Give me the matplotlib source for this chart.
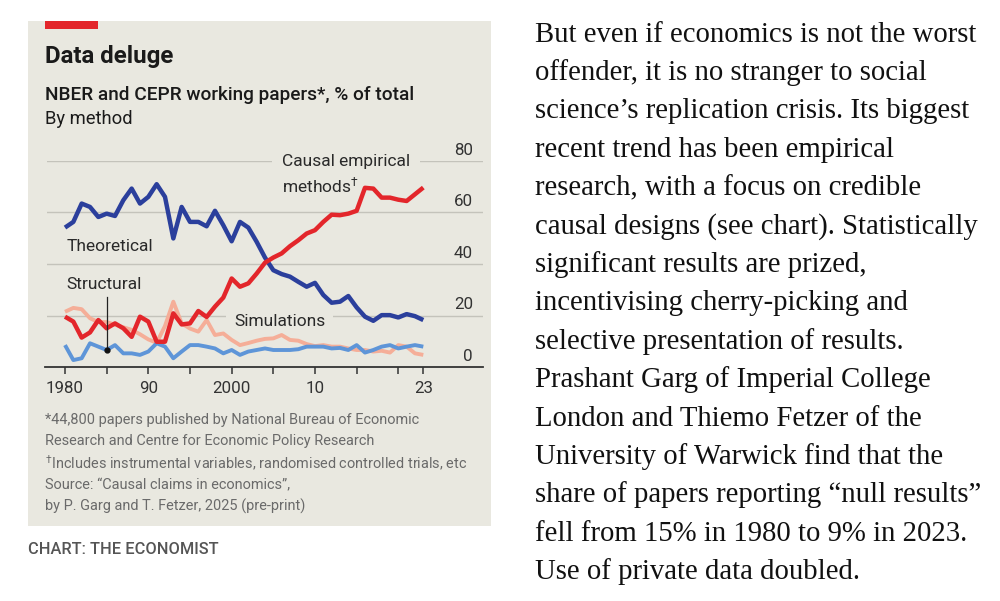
import matplotlib
matplotlib.use("Agg")
import matplotlib.pyplot as plt
from matplotlib.patches import Rectangle
import matplotlib.transforms as mtransforms

plt.rcParams["mathtext.fontset"] = "custom"
plt.rcParams["mathtext.rm"] = "Roboto"
plt.rcParams["mathtext.it"] = "Roboto:italic"
plt.rcParams["mathtext.bf"] = "Roboto:bold"

years = list(range(1980, 2024))

theoretical = [54.1, 56.3, 63.4, 62.1, 58.2, 59.5, 58.6, 64.7, 69.2, 63.4,
               66.0, 70.9, 66.0, 49.9, 62.1, 56.3, 56.3, 54.6, 60.6, 55.0,
               48.8, 56.3, 54.1, 48.6, 42.5, 37.6, 36.1, 35.1, 33.1, 31.2,
               32.7, 28.0, 25.0, 25.4, 27.6, 23.2, 19.6, 18.0, 20.2, 20.2,
               19.3, 20.6, 19.8, 18.3]

causal = [19.6, 17.7, 11.5, 13.5, 18.3, 15.1, 17.0, 15.1, 11.8, 19.6,
          17.7, 9.9, 9.9, 20.9, 16.6, 17.0, 21.8, 19.5, 23.5, 27.0,
          34.4, 31.2, 32.5, 36.3, 40.5, 42.5, 44.1, 46.9, 49.2, 51.8,
          53.1, 56.3, 59.1, 58.9, 59.5, 60.6, 69.5, 69.2, 65.7, 65.7,
          64.9, 64.4, 67.0, 69.6]

simulations = [21.5, 23.0, 22.5, 19.0, 17.5, 17.5, 16.5, 15.5, 14.5, 12.8,
               10.8, 9.5, 16.0, 25.4, 17.0, 15.0, 13.8, 18.3, 12.5, 13.1,
               10.6, 8.6, 9.4, 10.3, 11.0, 11.2, 12.5, 10.6, 10.3, 9.0,
               8.2, 8.6, 8.0, 8.0, 7.3, 6.7, 6.7, 6.1, 6.4, 5.7,
               8.6, 8.0, 5.4, 4.8]

structural = [8.6, 2.8, 3.5, 9.3, 8.0, 6.7, 8.6, 5.4, 5.4, 4.8,
              6.1, 9.3, 8.0, 3.5, 6.1, 8.6, 8.6, 8.0, 7.3, 5.4,
              6.7, 4.8, 6.1, 6.7, 7.3, 6.7, 6.7, 6.7, 7.0, 8.0,
              8.0, 8.0, 7.3, 7.5, 6.7, 8.6, 5.7, 6.7, 8.0, 8.6,
              7.3, 8.0, 8.6, 8.0]

x_ticks = [1980, 1985, 1990, 1995, 2000, 2005, 2010, 2015, 2020, 2023]
x_tick_labels = ["1980", "", "90", "", "2000", "", "10", "", "", "23"]
y_ticks = [0, 20, 40, 60, 80]
y_tick_labels = ["0", "20", "40", "60", "80"]

body_lines = [
    "But even if economics is not the worst",
    "offender, it is no stranger to social",
    "science\u2019s replication crisis. Its biggest",
    "recent trend has been empirical",
    "research, with a focus on credible",
    "causal designs (see chart). Statistically",
    "significant results are prized,",
    "incentivising cherry-picking and",
    "selective presentation of results.",
    "Prashant Garg of Imperial College",
    "London and Thiemo Fetzer of the",
    "University of Warwick find that the",
    "share of papers reporting \u201cnull results\u201d",
    "fell from 15% in 1980 to 9% in 2023.",
    "Use of private data doubled.",
]

DAG = "$^{\\mathrm{" + "\u2020" + "}}$"
footnotes = [
    "*44,800 papers published by National Bureau of Economic",
    "Research and Centre for Economic Policy Research",
    DAG + "Includes instrumental variables, randomised controlled trials, etc",
    "Source: \u201cCausal claims in economics\u201d,",
    "by P. Garg and T. Fetzer, 2025 (pre-print)",
]

BG = "#E9E8E0"
DARK_BLUE = "#2B3F9C"
RED = "#E3262B"
PINK = "#F5AE98"
LIGHT_BLUE = "#5E95D8"
GRID = "#C4C3BB"
SANS = ["Roboto", "DejaVu Sans"]

W, H = 1000, 601
fig = plt.figure(figsize=(W / 100, H / 100), dpi=100)
fig.patch.set_facecolor("white")


def fy(py):
    return 1 - py / H


# Panel background and red tag
fig.patches.append(Rectangle((28 / W, fy(526)), 463 / W, 505 / H,
                             transform=fig.transFigure, facecolor=BG,
                             edgecolor="none", zorder=-2))
fig.patches.append(Rectangle((45 / W, fy(29)), 53 / W, 8 / H,
                             transform=fig.transFigure, facecolor=RED,
                             edgecolor="none", zorder=-1))

# Titles
fig.text(45 / W, fy(57), "Data deluge", family=SANS, fontsize=17.3,
         fontweight="bold", color="#1a1a1a", va="center", ha="left")
fig.text(45 / W, fy(95), "NBER and CEPR working papers*, % of total",
         family=SANS, fontsize=13.7, fontweight="medium", color="#1a1a1a",
         va="center", ha="left")
fig.text(45 / W, fy(118.5), "By method", family=SANS, fontsize=13.2,
         color="#1a1a1a", va="center", ha="left")

# Axes
x0_px, x1_px = 47, 483
y0_px, y1_px = 367.3, 160.7
ppy = (423.3 - 65) / 43.0
xmin = 1980 - (65 - x0_px) / ppy
xmax = 2023 + (x1_px - 423.3) / ppy
ax = fig.add_axes([x0_px / W, fy(y0_px), (x1_px - x0_px) / W,
                   (y0_px - y1_px) / H])
ax.set_zorder(2)
ax.set_facecolor("none")
ax.set_xlim(xmin, xmax)
ax.set_ylim(0, 80)
for s in ax.spines.values():
    s.set_visible(False)

for v in y_ticks[1:]:
    ax.axhline(v, color=GRID, lw=1.0, zorder=0.5)
ax.axhline(0, xmin=-2 / (x1_px - x0_px), color="#333333", lw=1.3, zorder=4,
           clip_on=False)

ax.set_yticks([])
ax.set_xticks(x_ticks)
ax.set_xticklabels(x_tick_labels, family=SANS, fontsize=12.2, color="#333333")
ax.tick_params(axis="x", length=5, width=1.1, color="#333333", pad=5,
               direction="out")

ytrans = mtransforms.blended_transform_factory(ax.transAxes, ax.transData)
for v, lab in zip(y_ticks, y_tick_labels):
    ax.text((473 - x0_px) / (x1_px - x0_px), v + 2.4, lab, transform=ytrans,
            ha="right", va="baseline", family=SANS, fontsize=12.2,
            color="#333333", clip_on=False)

# Series
ax.plot(years, simulations, color=PINK, lw=2.8, zorder=2,
        solid_joinstyle="round", solid_capstyle="butt")
ax.plot(years, structural, color=LIGHT_BLUE, lw=2.8, zorder=2.2,
        solid_joinstyle="round", solid_capstyle="butt")
ax.plot(years, theoretical, color=DARK_BLUE, lw=3.2, zorder=2.4,
        solid_joinstyle="round", solid_capstyle="butt")
ax.plot(years, causal, color=RED, lw=3.2, zorder=2.6,
        solid_joinstyle="round", solid_capstyle="butt")


def px2x(px):
    return 1980 + (px - 65) / ppy


def py2v(py):
    return (y0_px - py) / ((y0_px - y1_px) / 80)


lab_kw = dict(family=SANS, fontsize=12.5, color="#2a2a2a", ha="left",
              va="center", zorder=1)
ax.text(px2x(282), py2v(161.7), "Causal empirical",
        bbox=dict(boxstyle="square,pad=0.55", fc=BG, ec="none"), **lab_kw)
ax.text(px2x(282), py2v(185.5), "methods" + DAG, **lab_kw)
ax.text(px2x(67), py2v(247), "Theoretical", **lab_kw)
ax.text(px2x(66), py2v(285), "Structural", **lab_kw)
ax.text(px2x(234), py2v(321.7), "Simulations",
        bbox=dict(boxstyle="square,pad=0.45", fc=BG, ec="none"), **lab_kw)

# Pointer for Structural
i85 = years.index(1985)
ax.plot([1985, 1985], [py2v(297), structural[i85]], color="#222222",
        lw=0.9, zorder=3)
ax.plot([1985], [structural[i85]], "o", color="#111111", ms=3.5, zorder=3.1)

# Footnotes
for k, (line, py) in enumerate(zip(footnotes, [420, 441.5, 463, 485, 506.7])):
    fig.text(45 / W, fy(py), line, family=SANS, fontsize=10.45,
             color="#6a6a6a", va="center", ha="left")

fig.text(28 / W, fy(550), "CHART: THE ECONOMIST", family=SANS, fontsize=11.8,
         fontweight="medium", color="#555555", va="center", ha="left")

# Body text
for k, line in enumerate(body_lines):
    fig.text(535 / W, fy(41.7 + 38.4 * k), line,
             family=["Liberation Serif", "DejaVu Serif"], fontsize=20.7,
             color="#111111", va="baseline", ha="left")

fig.savefig("out.png", dpi=100, facecolor="white")
